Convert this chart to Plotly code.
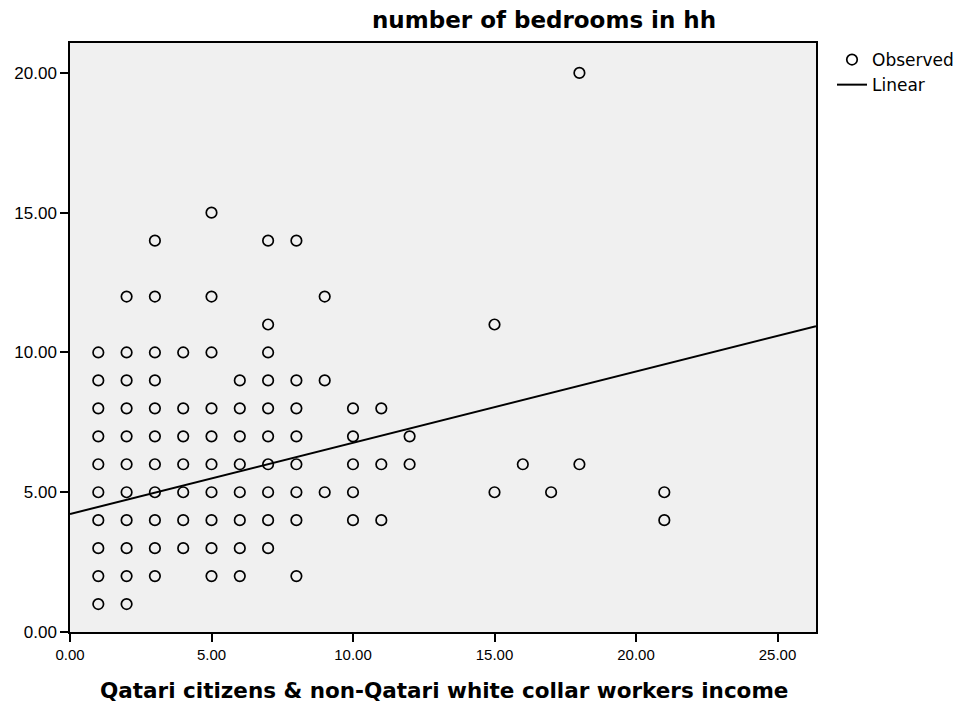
import plotly.graph_objects as go

# Observed data: x = income category, y = number of bedrooms
obs_x = ([1]*10 + [2]*11 + [3]*11 + [4]*7 + [5]*10 + [6]*8 + [7]*10 + [8]*8 +
         [9]*3 + [10]*5 + [11]*3 + [12]*2 + [15]*2 + [16] + [17] + [18]*2 + [21]*2)
obs_y = ([1, 2, 3, 4, 5, 6, 7, 8, 9, 10] +
         [1, 2, 3, 4, 5, 6, 7, 8, 9, 10, 12] +
         [2, 3, 4, 5, 6, 7, 8, 9, 10, 12, 14] +
         [3, 4, 5, 6, 7, 8, 10] +
         [2, 3, 4, 5, 6, 7, 8, 10, 12, 15] +
         [2, 3, 4, 5, 6, 7, 8, 9] +
         [3, 4, 5, 6, 7, 8, 9, 10, 11, 14] +
         [2, 4, 5, 6, 7, 8, 9, 14] +
         [5, 9, 12] +
         [4, 5, 6, 7, 8] +
         [4, 6, 8] +
         [6, 7] +
         [5, 11] + [6] + [5] + [6, 20] + [4, 5])

# Linear fit parameters
lin_intercept = 4.22
lin_slope = 0.255
x_max = 26.36
y_max = 21.07

tick_vals = [0, 5, 10, 15, 20, 25]
tick_text = ["0.00", "5.00", "10.00", "15.00", "20.00", "25.00"]
ytick_vals = [0, 5, 10, 15, 20]
ytick_text = ["0.00", "5.00", "10.00", "15.00", "20.00"]

lin_x = [0, x_max]
lin_y = [lin_intercept + lin_slope * v for v in lin_x]

W, H = 961, 706
ML, MR, MT, MB = 70, 145, 43, 74
PW, PH = W - ML - MR, H - MT - MB

fig = go.Figure()
fig.add_trace(go.Scatter(
    x=obs_x, y=obs_y, mode="markers", name="Observed",
    marker=dict(symbol="circle-open", size=10.5, color="black",
                line=dict(width=1.7, color="black")),
))
fig.add_trace(go.Scatter(
    x=lin_x, y=lin_y, mode="lines", name="Linear",
    line=dict(color="black", width=2),
))

font_family = "Liberation Sans, Arial, sans-serif"
wide = "DejaVu Sans, Liberation Sans, sans-serif"
fig.update_layout(
    width=W, height=H,
    margin=dict(l=ML, r=MR, t=MT, b=MB, autoexpand=False),
    paper_bgcolor="white",
    plot_bgcolor="#f0f0f0",
    font=dict(family=font_family, color="black", size=14),
    showlegend=True,
    legend=dict(xref="container", yref="container",
                x=832 / W, y=1 - 42 / H, xanchor="left", yanchor="top",
                bgcolor="rgba(0,0,0,0)", font=dict(size=17, family=wide),
                tracegroupgap=0, itemwidth=30),
)
fig.add_annotation(text="<b>number of bedrooms in hh</b>",
                   xref="paper", yref="paper",
                   x=(544 - ML) / PW, y=1 + (MT - 20) / PH,
                   xanchor="center", yanchor="middle", showarrow=False,
                   font=dict(size=23, family=wide))
fig.add_annotation(text="<b>Qatari citizens &amp; non-Qatari white collar workers income</b>",
                   xref="paper", yref="paper",
                   x=(444 - ML) / PW, y=-(690 - (H - MB)) / PH,
                   xanchor="center", yanchor="middle", showarrow=False,
                   font=dict(size=21.5, family=wide))

fig.update_xaxes(range=[0, x_max], tickvals=tick_vals, ticktext=tick_text,
                 showgrid=False, zeroline=False, showline=True, linecolor="black",
                 linewidth=1.5, mirror=True, ticks="outside", ticklen=8,
                 tickwidth=1.5, tickcolor="black",
                 tickfont=dict(size=15, family=font_family))
fig.update_yaxes(range=[0, y_max], tickvals=ytick_vals, ticktext=ytick_text,
                 showgrid=False, zeroline=False, showline=True, linecolor="black",
                 linewidth=1.5, mirror=True, ticks="outside", ticklen=8,
                 tickwidth=1.5, tickcolor="black", tickfont=dict(size=17))

fig.write_html("out.html", config={"displayModeBar": False},
               post_script="document.body.style.margin='0';document.body.style.padding='0';")
